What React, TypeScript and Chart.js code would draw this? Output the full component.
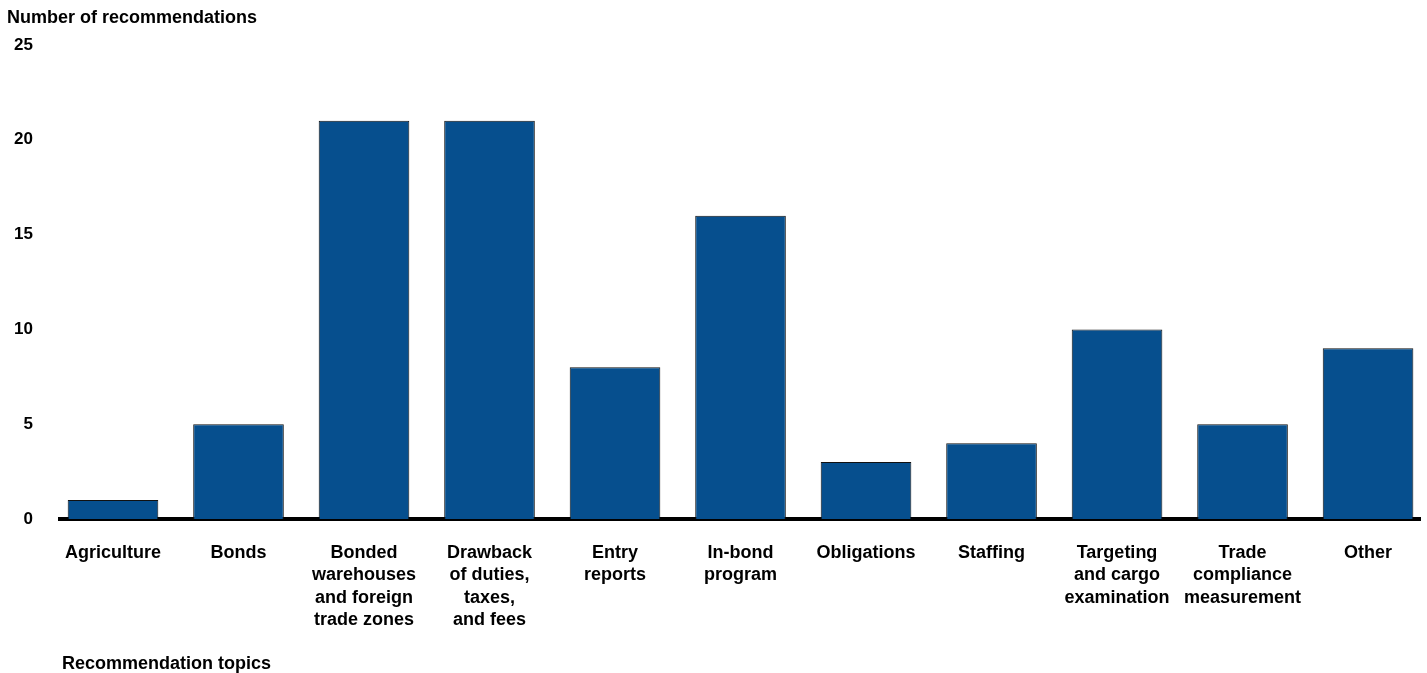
import React, { useEffect, useRef } from "react";
import { Chart, registerables } from "chart.js";

Chart.register(...registerables);

const categories: string[] = [
  "Agriculture",
  "Bonds",
  "Bonded warehouses and foreign trade zones",
  "Drawback of duties, taxes, and fees",
  "Entry reports",
  "In-bond program",
  "Obligations",
  "Staffing",
  "Targeting and cargo examination",
  "Trade compliance measurement",
  "Other",
];

const tickLabels: string[][] = [
  ["Agriculture"],
  ["Bonds"],
  ["Bonded", "warehouses", "and foreign", "trade zones"],
  ["Drawback", "of duties,", "taxes,", "and fees"],
  ["Entry", "reports"],
  ["In-bond", "program"],
  ["Obligations"],
  ["Staffing"],
  ["Targeting", "and cargo", "examination"],
  ["Trade", "compliance", "measurement"],
  ["Other"],
];

const recommendations: number[] = [1, 5, 21, 21, 8, 16, 3, 4, 10, 5, 9];

const yTicks: number[] = [0, 5, 10, 15, 20, 25];

const yTitle = "Number of recommendations";
const xTitle = "Recommendation topics";

const FONT = '"Liberation Sans", Arial, Helvetica, sans-serif';

export default function App() {
  const canvasRef = useRef<HTMLCanvasElement | null>(null);

  useEffect(() => {
    document.body.style.margin = "0";
    const canvas = canvasRef.current;
    if (!canvas) return;

    const titlePlugin = {
      id: "axisTitles",
      afterDraw(chart: any) {
        const ctx = chart.ctx;
        ctx.save();
        ctx.fillStyle = "#000";
        ctx.font = `bold 18px ${FONT}`;
        ctx.textAlign = "left";
        ctx.textBaseline = "middle";
        ctx.fillText(yTitle, 7, 18);
        ctx.fillText(xTitle, 62, 664);
        ctx.restore();
      },
    };

    const chart = new Chart(canvas, {
      type: "bar",
      data: {
        datasets: [
          {
            label: yTitle,
            data: categories.map((_, i) => ({ x: i, y: recommendations[i] })),
            backgroundColor: "#064f8e",
            borderColor: "#111111",
            borderWidth: 1,
            barPercentage: 0.722,
            categoryPercentage: 1,
          },
        ],
      },
      options: {
        animation: false,
        responsive: false,
        maintainAspectRatio: false,
        layout: { padding: { top: 45, right: 7, bottom: 0, left: 0 } },
        plugins: {
          legend: { display: false },
          tooltip: { enabled: false },
          title: { display: false },
        },
        scales: {
          x: {
            type: "linear",
            offset: false,
            min: -0.4223,
            max: 10.414,
            grid: { display: false, offset: false },
            border: { display: true, color: "#000", width: 4 },
            afterBuildTicks: (scale: any) => {
              scale.ticks = categories.map((_, i) => ({ value: i }));
            },
            afterFit: (scale: any) => {
              scale.height = 154;
            },
            ticks: {
              autoSkip: false,
              maxRotation: 0,
              minRotation: 0,
              padding: 15,
              color: "#000",
              font: { family: FONT, size: 18, weight: "bold", lineHeight: 1.24 },
              callback: (value: any) => {
                const idx = Math.round(Number(value));
                return tickLabels[idx] ?? "";
              },
            },
          },
          y: {
            min: 0,
            max: 25,
            grid: { display: false },
            border: { display: false },
            afterBuildTicks: (scale: any) => {
              scale.ticks = yTicks.map((v) => ({ value: v }));
            },
            afterFit: (scale: any) => {
              scale.width = 60;
            },
            ticks: {
              crossAlign: "near",
              padding: 19,
              color: "#000",
              font: { family: FONT, size: 17, weight: "bold" },
            },
          },
        },
      },
      plugins: [titlePlugin],
    });

    return () => {
      chart.destroy();
    };
  }, []);

  return (
    <div style={{ position: "absolute", left: 0, top: 0, width: 1427, height: 673, background: "#fff" }}>
      <canvas ref={canvasRef} width={1427} height={673} style={{ width: 1427, height: 673, display: "block" }} />
    </div>
  );
}
